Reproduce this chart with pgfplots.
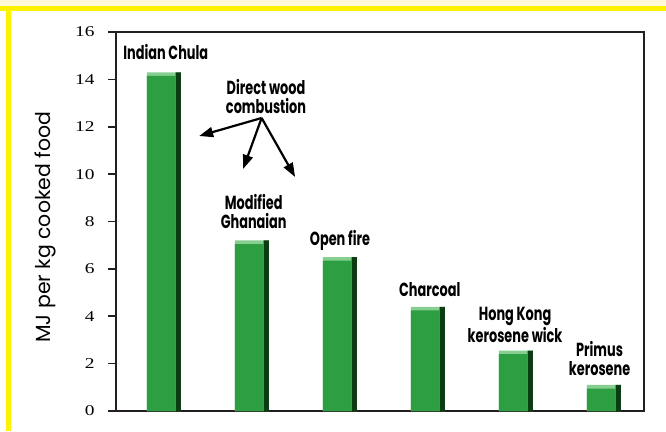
\documentclass[border=0pt]{standalone}
\usepackage{fontspec}
\setmainfont{Liberation Serif}
\newfontfamily\tickfont[FakeStretch=1.3]{Liberation Serif}
\newfontfamily\labfont[FakeStretch=0.68]{Poppins}
\newfontfamily\ylabfont{Poppins}
\usepackage{pgfplots}
\usepackage{pgfplotstable}
\pgfplotsset{compat=1.18}
\usetikzlibrary{arrows.meta}
\definecolor{barg}{HTML}{2E9E42}
\definecolor{bardark}{HTML}{0B3D12}
\definecolor{barlight}{HTML}{86CF90}
\definecolor{frameyel}{HTML}{FFF200}
\definecolor{paleyel}{HTML}{FFF9D8}
\definecolor{axisgray}{HTML}{231F20}
\pgfplotstableread{
x v
0 14.3
1 7.2
2 6.5
3 4.4
4 2.55
5 1.1
}\bars
\begin{document}
\begin{tikzpicture}[x=1bp,y=1bp]
\useasboundingbox (0,0) rectangle (666,431);
\fill[white] (0,0) rectangle (666,431);
\fill[paleyel] (0,425) rectangle (666,431);
\fill[frameyel] (0,420) rectangle (666,425);
\fill[frameyel] (6,0) rectangle (11,425);
\begin{axis}[
  at={(116bp,20bp)}, anchor=south west,
  scale only axis, width=528bp, height=379bp,
  xmin=-0.545, xmax=5.455, ymin=0, ymax=16,
  xtick=\empty, ytick={0,2,...,16}, ytick pos=left,
  tick align=outside, major tick length=8bp,
  axis line style={axisgray, line width=2.2bp},
  every tick/.style={axisgray, line width=1.6bp},
  /pgf/number format/assume math mode=true,
  yticklabel style={font=\tickfont\fontsize{15}{15}\selectfont, xshift=-10bp},
  ylabel={MJ per kg cooked food},
  every axis y label/.style={at={(axis description cs:-0.134,0.485)}, rotate=90, anchor=center, font=\ylabfont\fontsize{20.5}{20.5}\selectfont},
  clip=false,
]
\addplot[ybar, bar width=0.386, bar shift=0, fill=barlight, draw=none] table[x=x,y=v]{\bars};
\addplot[ybar, bar width=0.06, bar shift=0.163, fill=bardark, draw=none] table[x=x,y=v]{\bars};
\addplot[ybar, bar width=0.326, bar shift=-0.03, fill=barg, draw=none] table[x=x,y expr=\thisrow{v}-0.15]{\bars};
\begin{scope}[every node/.style={font=\labfont\bfseries\fontsize{19}{19}\selectfont, align=center, text=black, inner sep=0pt}]
\node at (axis cs:0.02,15.15) {Indian Chula};
\node at (axis cs:1.16,13.28) {Direct wood\\combustion};
\node at (axis cs:1.02,8.42) {Modified\\Ghanaian};
\node at (axis cs:2.0,7.18) {Open fire};
\node at (axis cs:3.02,5.11) {Charcoal};
\node at (axis cs:3.99,3.63) {Hong Kong\\kerosene wick};
\node at (axis cs:4.95,2.2) {Primus\\kerosene};
\end{scope}
\begin{scope}[line width=2.2bp, -{Triangle[length=14bp,width=10bp]}]
\draw (axis cs:1.11,12.37) -- (axis cs:0.40,11.61);
\draw (axis cs:1.11,12.37) -- (axis cs:0.90,10.22);
\draw (axis cs:1.11,12.37) -- (axis cs:1.49,9.88);
\end{scope}
\end{axis}
\end{tikzpicture}
\end{document}
